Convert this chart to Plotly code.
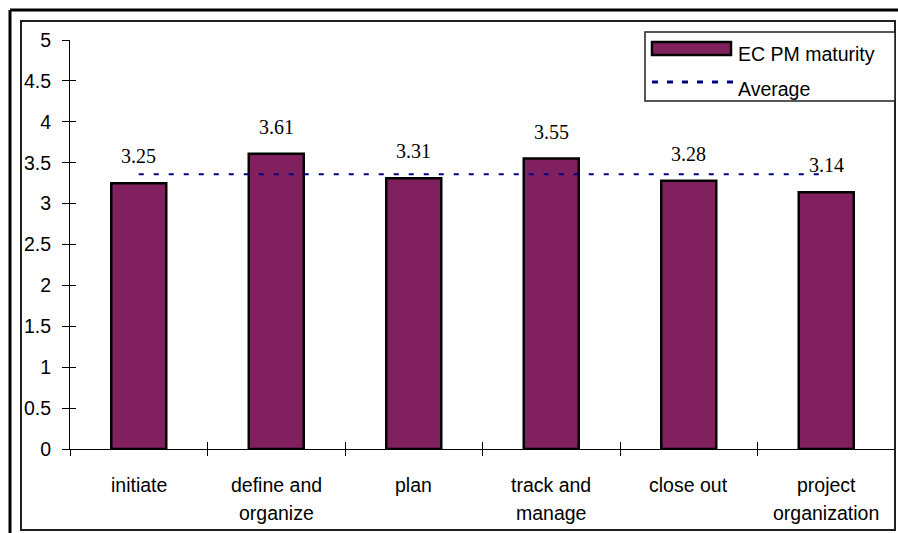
import plotly.graph_objects as go

# Project-management maturity scores per process area
categories = ["initiate", "define and organize", "plan", "track and manage",
              "close out", "project organization"]
category_lines = [["initiate"], ["define and", "organize"], ["plan"],
                  ["track and", "manage"], ["close out"], ["project", "organization"]]
maturity = [3.25, 3.61, 3.31, 3.55, 3.28, 3.14]
average = 3.36
y_ticks = [0, 0.5, 1, 1.5, 2, 2.5, 3, 3.5, 4, 4.5, 5]
y_tick_text = ["0", "0.5", "1", "1.5", "2", "2.5", "3", "3.5", "4", "4.5", "5"]

W, H = 898, 533
ML, MR, MT, MB = 70, 3, 40, 84
PW, PH = W - ML - MR, H - MT - MB

BAR = "#80205E"
NAVY = "#000080"
SANS = "Liberation Sans, Arial, sans-serif"
SERIF = "Liberation Serif, Times New Roman, serif"
FS = 19.5


def px(x):
    return (x - ML) / PW


def py(y):
    return (H - MB - y) / PH


fig = go.Figure()
fig.add_trace(go.Bar(
    x=categories, y=maturity, width=0.4,
    marker=dict(color=BAR, line=dict(color="black", width=2.5)),
    showlegend=False, hoverinfo="skip",
))
fig.add_trace(go.Scatter(
    x=categories, y=[average] * len(categories), mode="lines",
    line=dict(color=NAVY, width=2, dash="5px,10px"),
    showlegend=False, hoverinfo="skip",
))
# empty trace so the overlaid tick axes (inner halves of the crossing ticks) get drawn
fig.add_trace(go.Scatter(x=[], y=[], xaxis="x2", yaxis="y2", showlegend=False,
                         hoverinfo="skip"))

annotations = []
for cat, v in zip(categories, maturity):
    annotations.append(dict(
        x=cat, y=v, xref="x", yref="y", text=f"{v:.2f}", showarrow=False,
        yanchor="middle", yshift=27, font=dict(family=SERIF, size=20, color="black"),
    ))
for i, lines in enumerate(category_lines):
    for j, line in enumerate(lines):
        annotations.append(dict(
            x=i, y=py(485 + 28 * j), xref="x", yref="paper", text=line,
            showarrow=False, yanchor="middle",
            font=dict(family=SANS, size=FS, color="black"),
        ))
# legend labels
annotations.append(dict(x=px(736), y=py(54), xref="paper", yref="paper",
                        text="EC PM maturity", showarrow=False, xanchor="left",
                        yanchor="middle", font=dict(family=SANS, size=FS, color="black")))
annotations.append(dict(x=px(736), y=py(89), xref="paper", yref="paper",
                        text="Average", showarrow=False, xanchor="left",
                        yanchor="middle", font=dict(family=SANS, size=FS, color="black")))

shapes = [
    # outer frame
    dict(type="line", xref="paper", yref="paper", x0=px(10), x1=px(905),
         y0=py(10), y1=py(10), line=dict(color="black", width=3)),
    dict(type="line", xref="paper", yref="paper", x0=px(10), x1=px(10),
         y0=py(10), y1=py(540), line=dict(color="black", width=3)),
    # inner frame
    dict(type="rect", xref="paper", yref="paper", x0=px(21), x1=px(895),
         y0=py(21), y1=py(530), line=dict(color="#202020", width=2)),
    # legend box
    dict(type="rect", xref="paper", yref="paper", x0=px(645), x1=px(895),
         y0=py(32), y1=py(101), line=dict(color="#202020", width=1.5),
         fillcolor="white", layer="above"),
    dict(type="rect", xref="paper", yref="paper", x0=px(652), x1=px(731),
         y0=py(42), y1=py(55), line=dict(color="black", width=2.5),
         fillcolor=BAR, layer="above"),
    dict(type="line", xref="paper", yref="paper", x0=px(652), x1=px(734),
         y0=py(82), y1=py(82), line=dict(color=NAVY, width=3, dash="6px,9px"),
         layer="above"),
]

fig.update_layout(
    width=W, height=H, autosize=False,
    margin=dict(l=ML, r=MR, t=MT, b=MB, pad=0),
    paper_bgcolor="white", plot_bgcolor="white",
    bargap=0.6,
    xaxis=dict(
        type="category", range=[-0.5, 5.5], showgrid=False, zeroline=False,
        showline=True, linecolor="black", linewidth=1,
        ticks="outside", ticklen=6, tickcolor="black", tickwidth=1,
        tickson="boundaries", showticklabels=False,
    ),
    yaxis=dict(
        range=[0, 5], tickvals=y_ticks, ticktext=y_tick_text,
        showgrid=False, zeroline=False, showline=True, linecolor="black",
        linewidth=1, ticks="outside", ticklen=7, tickcolor="black", tickwidth=1,
        ticklabelstandoff=7, tickfont=dict(family=SANS, size=FS, color="black"),
    ),
    xaxis2=dict(
        overlaying="x", anchor="y", range=[0, 6], tickmode="linear", tick0=0,
        dtick=1, ticks="inside", ticklen=7, tickcolor="black", tickwidth=1,
        showticklabels=False, showgrid=False, zeroline=False, showline=False,
    ),
    yaxis2=dict(
        overlaying="y", anchor="x", range=[0, 5], tickvals=y_ticks,
        ticks="inside", ticklen=6, tickcolor="black", tickwidth=1,
        showticklabels=False, showgrid=False, zeroline=False, showline=False,
    ),
    annotations=annotations,
    shapes=shapes,
    showlegend=False,
)

fig.write_html("out.html")
